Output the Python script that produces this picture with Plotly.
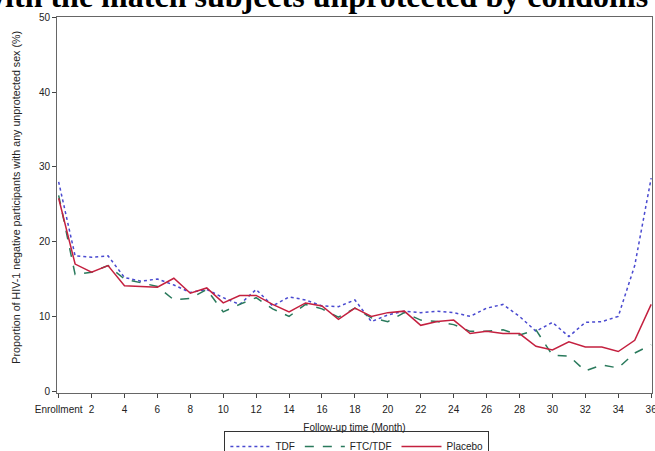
import plotly.graph_objects as go

months = list(range(0, 37))
tick_vals = list(range(0, 37, 2))
tick_text = ["Enrollment"] + [str(v) for v in range(2, 37, 2)]

tdf = [28.0, 18.1, 17.9, 18.1, 15.2, 14.7, 15.0, 14.2, 13.2, 13.6,
       12.5, 11.6, 13.6, 11.4, 12.6, 12.2, 11.4, 11.3, 12.2, 9.3,
       10.2, 10.7, 10.5, 10.7, 10.5, 10.0, 11.1, 11.6, 10.0, 8.0,
       9.2, 7.3, 9.2, 9.3, 10.0, 16.8, 28.5]
ftc_tdf = [26.2, 15.6, 15.9, 16.8, 15.0, 14.5, 14.0, 12.2, 12.4, 13.6,
           10.6, 11.6, 12.5, 11.0, 10.0, 11.6, 11.0, 9.9, 11.1, 9.8,
           9.3, 10.5, 9.5, 9.3, 8.9, 8.0, 8.0, 8.2, 7.5, 8.2,
           4.8, 4.7, 2.7, 3.5, 3.1, 5.1, 6.2]
placebo = [25.8, 17.0, 15.9, 16.8, 14.1, 14.0, 13.9, 15.1, 13.1, 13.8,
           11.8, 12.8, 12.8, 11.6, 10.6, 11.8, 11.4, 9.6, 11.1, 10.0,
           10.5, 10.7, 8.8, 9.3, 9.5, 7.7, 8.0, 7.7, 7.7, 6.0,
           5.5, 6.6, 5.9, 5.9, 5.3, 6.8, 11.6]

series = [
    ("TDF", tdf, "#4a4ad0", "dot"),
    ("FTC/TDF", ftc_tdf, "#2a7a5c", "dash"),
    ("Placebo", placebo, "#c4203f", "solid"),
]

fig = go.Figure()
for name, vals, color, dash in series:
    fig.add_trace(go.Scatter(
        x=months, y=vals, mode="lines", name=name,
        line=dict(color=color, width=1.5, dash=dash),
    ))

axis_font = dict(family="Liberation Sans, Arial, sans-serif", size=10, color="#222")

fig.update_layout(
    width=655, height=451,
    margin=dict(l=57, r=3, t=17, b=58, autoexpand=False),
    paper_bgcolor="white", plot_bgcolor="white",
    font=axis_font,
    showlegend=True,
    legend=dict(
        orientation="h", x=0.504, xanchor="center", y=-0.101, yanchor="top",
        bordercolor="#333", borderwidth=1, font=dict(size=10, color="#222"),
        itemwidth=40, tracegroupgap=0,
    ),
    xaxis=dict(
        range=[-0.1, 36.05], tickmode="array", tickvals=tick_vals, ticktext=tick_text,
        ticks="outside", ticklen=4, tickcolor="#444", showgrid=False, zeroline=False,
        showline=True, linecolor="#666", linewidth=1, mirror=True,
        ticklabeloverflow="allow", ticklabelstandoff=3,
        title=dict(text="Follow-up time (Month)", font=dict(size=10), standoff=9),
        tickfont=dict(size=10),
    ),
    yaxis=dict(
        range=[-0.25, 50.05], tickvals=[0, 10, 20, 30, 40, 50],
        ticks="outside", ticklen=4, tickcolor="#444", showgrid=False, zeroline=False,
        showline=True, linecolor="#666", linewidth=1, mirror=True,
        tickfont=dict(size=10),
    ),
    annotations=[
        dict(
            text="<b>with the match subjects unprotected by condoms</b>",
            xref="paper", yref="paper", x=0.434, y=1.0, xanchor="center", yanchor="bottom",
            yshift=1, showarrow=False,
            font=dict(family="Liberation Serif, Times New Roman, serif", size=32, color="black"),
        ),
        dict(
            text="Proportion of HIV-1 negative participants with any unprotected sex (%)",
            xref="paper", yref="paper", x=-0.068, y=0.521, xanchor="center", yanchor="middle",
            textangle=-90, showarrow=False,
            font=dict(size=10.7, color="#222"),
        ),
    ],
)

fig.write_html(
    "out.html",
    config={"displayModeBar": False},
    post_script="document.body.style.margin='0';document.body.style.overflow='hidden';",
)
